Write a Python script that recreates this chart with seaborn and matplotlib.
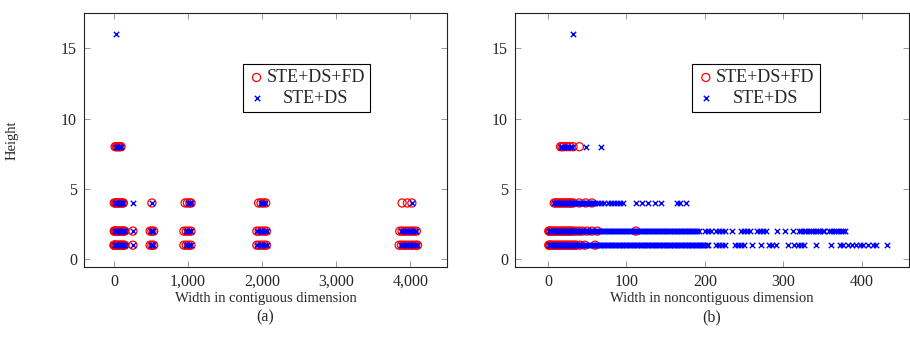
import matplotlib
matplotlib.use('Agg')
import matplotlib.pyplot as plt
import seaborn as sns
import pandas as pd
from matplotlib.ticker import FuncFormatter

# (a) width in contiguous dimension, one list per height
cont_fd_h8 = [16, 32, 48, 64, 80, 96]
cont_fd_h4 = [4, 16, 32, 48, 64, 80, 96, 112, 128, 512, 960, 992, 1024, 1040,
              1952, 1984, 2016, 2048, 3888, 3960, 4020]
cont_fd_h2 = [4, 8, 16, 24, 32, 48, 64, 80, 96, 112, 128, 144, 256, 488, 512, 536,
              944, 976, 1008, 1040, 1928, 1960, 1992, 2024, 2056,
              3856, 3888, 3920, 3952, 3984, 4016, 4048, 4080]
cont_fd_h1 = [1, 4, 8, 16, 32, 48, 64, 80, 96, 112, 128, 144, 256, 488, 512, 536,
              944, 976, 1008, 1040, 1928, 1960, 1992, 2024, 2056,
              3848, 3880, 3912, 3944, 3976, 4008, 4040, 4072, 4096]

cont_ds_h16 = [32]
cont_ds_h8 = [32, 48, 64, 80, 96]
cont_ds_h4 = [16, 32, 48, 64, 80, 96, 112, 128, 256, 512, 1000, 1024, 1040,
              1984, 2000, 2016, 2032, 4016]
cont_ds_h2 = [16, 32, 48, 64, 80, 96, 112, 128, 144, 256, 496, 512, 528,
              968, 992, 1016, 1040, 1936, 1968, 2000, 2032, 2064,
              3872, 3904, 3936, 3968, 4000, 4032, 4064, 4080]
cont_ds_h1 = [8, 16, 32, 48, 64, 80, 96, 112, 128, 144, 256, 496, 512, 528,
              968, 992, 1016, 1040, 1936, 1968, 2000, 2032, 2064,
              3872, 3904, 3936, 3968, 4000, 4032, 4064, 4088]

# (b) width in noncontiguous dimension, one list per height
nonc_fd_h8 = [16, 18, 20, 24, 28, 32, 40]
nonc_fd_h4 = [8, 10, 12, 14, 16, 18, 20, 22, 24, 26, 28, 30, 32, 40, 48, 56]
nonc_fd_h2 = [1, 2, 3, 4, 6, 8, 10, 12, 14, 16, 18, 20, 22, 24, 26, 28, 30, 32, 36,
              40, 44, 50, 56, 63, 112]
nonc_fd_h1 = [1, 2, 3, 4, 6, 8, 10, 12, 14, 16, 18, 20, 22, 24, 26, 28, 30, 32, 34,
              36, 41, 47, 60]

nonc_ds_h16 = [32]
nonc_ds_h8 = [16, 18, 20, 24, 28, 30, 48, 68]
nonc_ds_h4 = [8, 10, 12, 14, 16, 18, 20, 22, 24, 26, 28, 30, 32, 34, 36, 38, 40, 42,
              44, 46, 48, 50, 52, 54, 56, 58, 60, 64, 68, 72, 76, 80, 84, 88, 92, 96,
              112, 120, 128, 136, 144, 164, 168, 176]
nonc_ds_h2 = [1, 2, 4, 6, 8, 10, 12, 14, 16, 18, 20, 22, 24, 26, 28, 30, 32, 34, 36,
              38, 40, 42, 44, 46, 48, 50, 52, 54, 56, 58, 60, 62, 64, 66, 68, 70, 72,
              74, 76, 78, 80, 82, 84, 86, 88, 90, 92, 94, 96, 98, 100, 102, 104, 106,
              108, 110, 112, 114, 116, 118, 120, 122, 124, 126, 128, 130, 132, 134,
              136, 138, 140, 142, 144, 146, 148, 150, 152, 154, 156, 158, 160, 162,
              164, 166, 168, 170, 172, 174, 176, 178, 180, 182, 184, 186, 188, 190,
              192, 200, 204, 208, 214, 218, 222, 226, 234, 246, 250, 254, 258, 266,
              270, 274, 278, 292, 302, 312, 320, 323, 326, 329, 332, 335, 338, 341,
              344, 347, 350, 352, 358, 361, 364, 367, 370, 373, 376, 379]
nonc_ds_h1 = [1, 2, 4, 6, 8, 10, 12, 14, 16, 18, 20, 22, 24, 26, 28, 30, 32, 34, 36,
              38, 40, 42, 44, 46, 48, 50, 52, 54, 56, 58, 60, 62, 64, 66, 68, 70, 72,
              74, 76, 78, 80, 82, 84, 86, 88, 90, 92, 94, 96, 98, 100, 102, 104, 106,
              108, 110, 112, 114, 116, 118, 120, 122, 124, 126, 128, 130, 132, 134,
              136, 138, 140, 142, 144, 146, 148, 150, 152, 154, 156, 158, 160, 162,
              164, 166, 168, 170, 172, 174, 176, 178, 180, 182, 184, 186, 188, 190,
              192, 194, 196, 198, 200, 202, 204, 214, 218, 222, 226, 238, 242, 246,
              250, 260, 272, 282, 286, 290, 306, 314, 318, 322, 326, 342, 360, 372,
              376, 382, 388, 392, 398, 402, 408, 414, 418, 432]

labels = ['STE+DS+FD', 'STE+DS']


def to_frame(groups):
    rows = []
    for h, ws in groups:
        rows += [(w, h) for w in ws]
    return pd.DataFrame(rows, columns=['width', 'height'])


cont_fd = to_frame([(8, cont_fd_h8), (4, cont_fd_h4), (2, cont_fd_h2), (1, cont_fd_h1)])
cont_ds = to_frame([(16, cont_ds_h16), (8, cont_ds_h8), (4, cont_ds_h4),
                    (2, cont_ds_h2), (1, cont_ds_h1)])
nonc_fd = to_frame([(8, nonc_fd_h8), (4, nonc_fd_h4), (2, nonc_fd_h2), (1, nonc_fd_h1)])
nonc_ds = to_frame([(16, nonc_ds_h16), (8, nonc_ds_h8), (4, nonc_ds_h4),
                    (2, nonc_ds_h2), (1, nonc_ds_h1)])

sns.set_style('ticks')
plt.rcParams['font.family'] = ['Liberation Serif', 'DejaVu Serif']
plt.rcParams['xtick.direction'] = 'in'
plt.rcParams['ytick.direction'] = 'in'

fig = plt.figure(figsize=(9.1, 3.5), dpi=100)
ax1 = fig.add_axes([84 / 910, 83 / 350, 363 / 910, 254 / 350])
ax2 = fig.add_axes([515 / 910, 83 / 350, 394 / 910, 254 / 350])


def draw(ax, fd, ds, xlim, xticks, xlabel, tag, leg_x):
    sns.scatterplot(data=fd, x='width', y='height', ax=ax, marker='o', s=34,
                    color='red', facecolor='none', edgecolor='red', linewidth=0.9,
                    label=labels[0])
    sns.scatterplot(data=ds, x='width', y='height', ax=ax, marker='x', s=15,
                    color='blue', linewidth=1.0, label=labels[1])
    ax.set_xlim(*xlim)
    ax.set_ylim(-0.55, 17.5)
    ax.set_xticks(xticks)
    ax.set_yticks([0, 5, 10, 15])
    ax.xaxis.set_major_formatter(FuncFormatter(lambda v, p: f'{v:,.0f}'))
    ax.tick_params(top=True, right=True, length=4, width=0.6, color='#888888',
                   labelsize=11.5, pad=5)
    for s in ax.spines.values():
        s.set_color('#222222')
        s.set_linewidth(0.8)
    ax.set_xlabel(xlabel, fontsize=10.5)
    ax.xaxis.set_label_coords(0.5, -0.1)
    ax.set_ylabel('')
    ax.text(0.5, -0.197, tag, transform=ax.transAxes, ha='center', va='center',
            fontsize=11.5)
    leg = ax.legend(loc='upper left', bbox_to_anchor=(leg_x, 0.8), fontsize=13,
                    frameon=True, fancybox=False, edgecolor='black', framealpha=1,
                    borderpad=0.3, labelspacing=0.2, handletextpad=0.1,
                    handlelength=0.9, borderaxespad=0)
    leg.get_frame().set_linewidth(0.8)
    return leg


leg1 = draw(ax1, cont_fd, cont_ds, (-404, 4494), [0, 1000, 2000, 3000, 4000],
            'Width in contiguous dimension', '(a)', 0.438)
leg2 = draw(ax2, nonc_fd, nonc_ds, (-42, 460), [0, 100, 200, 300, 400],
            'Width in noncontiguous dimension', '(b)', 0.45)
ax1.set_ylabel('Height', fontsize=10.5)
ax1.yaxis.set_label_coords(-0.18, 0.5)

# center the legend entries like pgfplots does
fig.canvas.draw()
r = fig.canvas.get_renderer()
for leg in (leg1, leg2):
    texts = leg.get_texts()
    widths = [t.get_window_extent(r).width for t in texts]
    for t, w in zip(texts, widths):
        t.set_x((max(widths) - w) / 2)

fig.savefig('out.png', dpi=100)
